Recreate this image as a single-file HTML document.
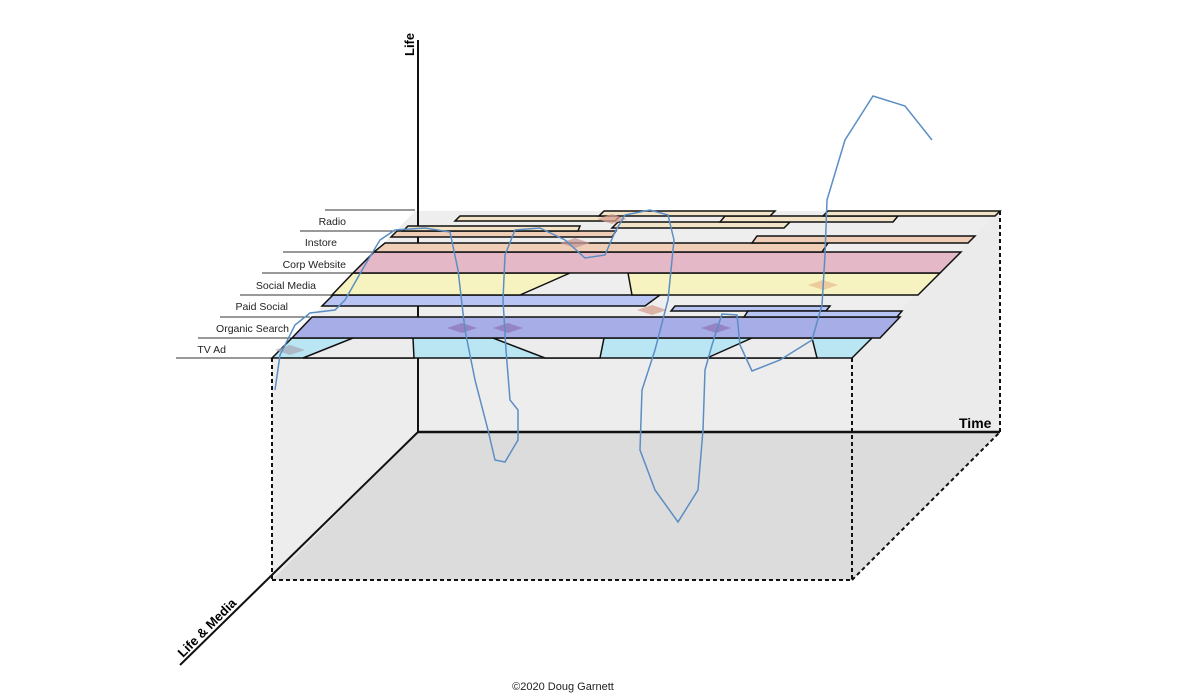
<!DOCTYPE html>
<html><head><meta charset="utf-8"><style>
body{margin:0;background:#fff;width:1200px;height:700px;overflow:hidden}
svg{display:block}
text{font-family:"Liberation Sans",sans-serif}
</style></head><body>
<svg width="1200" height="700" viewBox="0 0 1200 700" xmlns="http://www.w3.org/2000/svg">
<rect x="150" y="40" width="900" height="640" fill="#fff"/>
<polygon points="418,211 1000,211 1000,432 418,432" fill="#efefef"/>
<polygon points="272,358 418,211 418,432 272,580" fill="#f2f2f2"/>
<rect x="272" y="358" width="580" height="222" fill="#ededed"/>
<polygon points="852,358 1000,211 1000,432 852,580" fill="#ebebeb"/>
<polygon points="272,580 852,580 1000,432 418,432" fill="#dcdcdc"/>
<polygon points="415,211 1000,211 852,358 272,358" fill="#eeeeee"/>
<line x1="418" y1="40" x2="418" y2="432" stroke="#111" stroke-width="2"/>
<line x1="418" y1="432" x2="1000" y2="432" stroke="#111" stroke-width="2.5"/>
<line x1="418" y1="432" x2="180" y2="665" stroke="#111" stroke-width="2"/>
<text x="414" y="56" font-size="13" font-weight="bold" transform="rotate(-90 414 56)">Life</text>
<text x="959" y="428" font-size="14" font-weight="bold">Time</text>
<text x="183" y="658" font-size="13" font-weight="bold" transform="rotate(-45 183 658)">Life &amp; Media</text>
<g stroke="#111" stroke-width="2" stroke-dasharray="4,3" fill="none">
<line x1="272" y1="358" x2="272" y2="580"/>
<line x1="272" y1="580" x2="852" y2="580"/>
<line x1="852" y1="358" x2="852" y2="580"/>
<line x1="852" y1="580" x2="1000" y2="432"/>
<line x1="1000" y1="211" x2="1000" y2="432"/>
</g>
<g stroke="#333" stroke-width="1">
<line x1="325" y1="210" x2="415" y2="210"/>
<line x1="300" y1="231" x2="395" y2="231"/>
<line x1="283" y1="252" x2="374" y2="252"/>
<line x1="262" y1="273" x2="353" y2="273"/>
<line x1="240" y1="295" x2="332" y2="295"/>
<line x1="220" y1="317" x2="310" y2="317"/>
<line x1="198" y1="338" x2="292" y2="338"/>
<line x1="176" y1="358" x2="272" y2="358"/>
</g>
<g font-size="10.5" fill="#222" text-anchor="end">
<text x="346" y="225">Radio</text>
<text x="337" y="246">Instore</text>
<text x="346" y="268">Corp Website</text>
<text x="316" y="289">Social Media</text>
<text x="288" y="310">Paid Social</text>
<text x="289" y="332">Organic Search</text>
<text x="226" y="353">TV Ad</text>
</g>
<g stroke="#111" stroke-width="1.5">
<polygon points="292,338 872,338 852,358 272,358" fill="#b9e6f2"/>
<polygon points="353,338 413,338 414,358 303,358" fill="#ececec"/>
<polygon points="493,338 604,338 600,358 545,358" fill="#ececec"/>
<polygon points="752,338 812,338 817,358 707,358" fill="#ececec"/>
<polygon points="312,317 900,317 880,338 292,338" fill="#a7ade6"/>
<polygon points="333,295 660,295 645,306 322,306" fill="#b8c4f4"/>
<polygon points="675,306 830,306 826,311 671,311" fill="#b8c4f4"/>
<polygon points="748,311 902,311 897,317 744,317" fill="#b8c4f4"/>
<polygon points="353,273 570,273 520,295 332,295" fill="#f6f3c0"/>
<polygon points="628,273 940,273 918,295 632,295" fill="#f6f3c0"/>
<polygon points="374,252 961,252 940,273 353,273" fill="#e4b8c6"/>
<polygon points="385,243 828,243 822,252 374,252" fill="#f0cdb6"/>
<polygon points="757,236 975,236 968,243 752,243" fill="#f0cdb6"/>
<polygon points="397,231 616,231 612,237 391,237" fill="#f0cdb6"/>
<polygon points="408,226 580,226 578,231 403,231" fill="#f3e4c8"/>
<polygon points="618,222 790,222 784,228 612,228" fill="#f3e4c8"/>
<polygon points="460,216 620,216 615,221 455,221" fill="#f3e4c8"/>
<polygon points="725,216 898,216 893,222 720,222" fill="#f3e4c8"/>
<polygon points="604,211 775,211 770,216 599,216" fill="#f3e4c8"/>
<polygon points="828,211 1000,211 995,216 823,216" fill="#f3e4c8"/>
</g>
<g opacity="0.75">
<polygon points="290,345 305,350 290,355 275,350" fill="#a9a9b8"/>
<polygon points="462,323 477,328 462,333 447,328" fill="#8e77b8"/>
<polygon points="508,323 523,328 508,333 493,328" fill="#8e77b8"/>
<polygon points="716,323 731,328 716,333 701,328" fill="#8e77b8"/>
<polygon points="652,305 667,310 652,315 637,310" fill="#d6a090"/>
<polygon points="823,280 838,285 823,290 808,285" fill="#e8be90"/>
<polygon points="575,238 590,243 575,248 560,243" fill="#c99a9a"/>
<polygon points="612,214 627,219 612,224 597,219" fill="#d8a090"/>
</g>
<polyline fill="none" stroke="#5b8ec4" stroke-width="1.5" points="275,390 280,355 295,325 310,313 335,310 345,300 365,265 380,240 395,230 425,228 450,232 458,270 465,330 475,380 488,430 495,460 505,462 518,440 518,410 510,400 506,350 503,300 505,255 515,230 540,228 565,240 585,258 605,255 615,232 625,215 650,210 668,215 674,240 668,300 655,350 642,390 640,450 655,490 678,522 698,490 703,430 705,370 712,345 722,314 737,315 740,345 752,371 780,360 812,340 822,305 825,255 827,200 845,140 873,96 905,106 932,140"/>
<text x="563" y="690" font-size="11" fill="#222" text-anchor="middle">©2020 Doug Garnett</text>
</svg>
</body></html>
